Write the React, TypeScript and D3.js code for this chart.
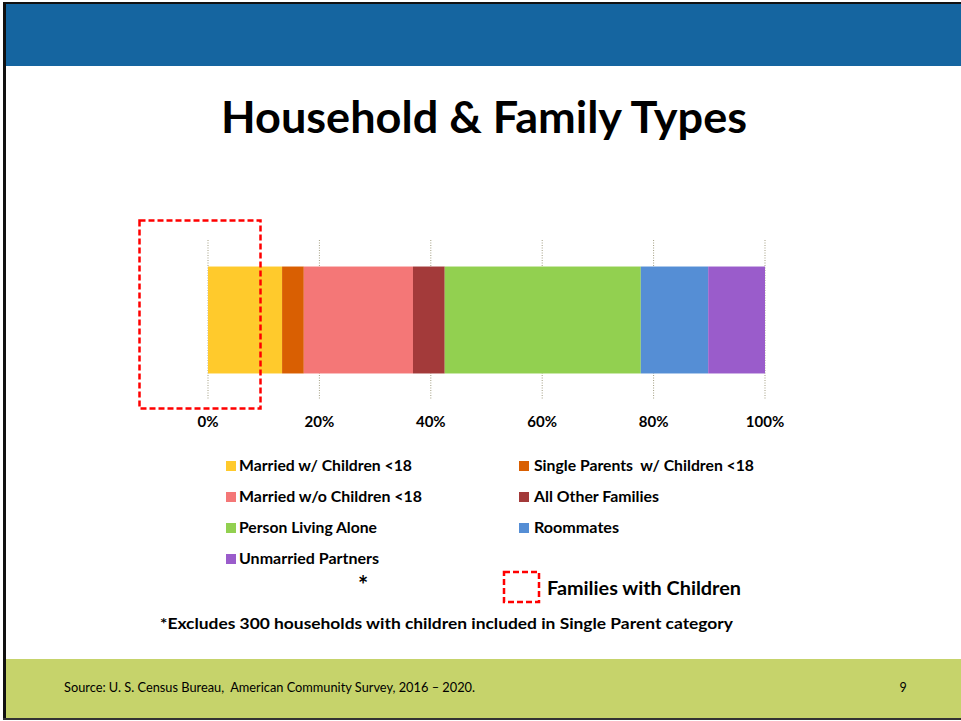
import React from "react";
import * as d3 from "d3";

const categories = [
  "Married w/ Children <18",
  "Single Parents  w/ Children <18",
  "Married w/o Children <18",
  "All Other Families",
  "Person Living Alone",
  "Roommates",
  "Unmarried Partners",
];
const shares = [13.3, 3.9, 19.6, 5.7, 35.2, 12.1, 10.2];
const colors = ["#FFCA2C", "#D95F02", "#F47777", "#A33A3A", "#92D050", "#558ED5", "#9A5CCB"];
const tickValues = [0, 20, 40, 60, 80, 100];
const tickLabels = ["0%", "20%", "40%", "60%", "80%", "100%"];
const rowName = ["Households"];
const legendWidths = [173, 220, 183, 125, 138, 85, 140];

const W = 961;
const H = 721;
const FONT = "Lato, 'Open Sans', sans-serif";

export default function App() {
  const x = d3.scaleLinear().domain([0, 100]).range([208, 765]);
  const y = d3.scaleBand().domain(rowName).range([240, 400]).paddingInner(0).paddingOuter(0.248);
  const stacked = d3.cumsum(shares);
  const starts = shares.map((s, i) => stacked[i] - s);
  const bandY = y(rowName[0]) as number;
  const bw = y.bandwidth();

  const legendPos = categories.map((_, i) => ({
    col: i % 2,
    row: Math.floor(i / 2),
  }));
  const colX = [226, 519];
  const textOff = [13, 15];
  const rowY = [466, 497, 528, 559];

  return (
    <svg
      width={W}
      height={H}
      style={{ position: "absolute", left: 0, top: 0, display: "block", background: "#fff" }}
      fontFamily={FONT}
    >
      {/* frame */}
      <rect x={0} y={0} width={W} height={H} fill="#fff" />
      <rect x={4} y={4} width={W - 4} height={62} fill="#1565A0" />
      <rect x={4} y={659} width={W - 4} height={59} fill="#C6D36B" />
      <rect x={3} y={2} width={W - 3} height={2} fill="#111" />
      <rect x={3} y={2} width={3} height={718} fill="#111" />
      <rect x={3} y={718} width={W - 3} height={2} fill="#333" />

      {/* title */}
      <text x={484} y={133} textAnchor="middle" fontSize={43} fontWeight={700} fill="#000"
        textLength={526} lengthAdjust="spacingAndGlyphs">
        Household &amp; Family Types
      </text>

      {/* gridlines */}
      {tickValues.map((t) => (
        <line key={t} x1={x(t)} x2={x(t)} y1={240} y2={400} stroke="#A39E82" strokeWidth={1}
          strokeDasharray="1,1.5" />
      ))}

      {/* bar segments */}
      {shares.map((s, i) => (
        <rect key={categories[i]} x={x(starts[i])} y={bandY} width={x(starts[i] + s) - x(starts[i])}
          height={bw} fill={colors[i]} />
      ))}

      {/* dashed box over families with children */}
      <rect x={139.5} y={220.5} width={121} height={188} fill="none" stroke="#FF0000" strokeWidth={2.5}
        strokeDasharray="6,3" />

      {/* tick labels */}
      {tickValues.map((t, i) => (
        <text key={t} x={x(t)} y={427} textAnchor="middle" fontSize={15} fontWeight={700} fill="#000">
          {tickLabels[i]}
        </text>
      ))}

      {/* legend */}
      {categories.map((c, i) => {
        const p = legendPos[i];
        const lx = colX[p.col];
        const ly = rowY[p.row];
        return (
          <g key={c}>
            <rect x={lx} y={ly - 5} width={10} height={10} fill={colors[i]} />
            <text x={lx + textOff[p.col]} y={ly + 5} fontSize={15} fontWeight={700} fill="#000"
              textLength={legendWidths[i]} lengthAdjust="spacingAndGlyphs" style={{ whiteSpace: "pre" }}>
              {c}
            </text>
          </g>
        );
      })}

      {/* asterisk */}
      <text x={363} y={594} textAnchor="middle" fontSize={24} fontWeight={700} fill="#000">*</text>

      {/* families with children key */}
      <rect x={504} y={572} width={35} height={30} fill="none" stroke="#FF0000" strokeWidth={2.5}
        strokeDasharray="6,3" />
      <text x={547} y={595} fontSize={18} fontWeight={700} fill="#000" textLength={194}
        lengthAdjust="spacingAndGlyphs">
        Families with Children
      </text>

      {/* footnote */}
      <text x={160} y={629} fontSize={15} fontWeight={700} fill="#000" textLength={573}
        lengthAdjust="spacingAndGlyphs">
        *Excludes 300 households with children included in Single Parent category
      </text>

      {/* footer */}
      <text x={64} y={692} fontSize={12.5} fill="#000" textLength={411} lengthAdjust="spacingAndGlyphs"
        style={{ whiteSpace: "pre" }}>
        {"Source: U. S. Census Bureau,  American Community Survey, 2016 \u2013 2020."}
      </text>
      <text x={903} y={692} textAnchor="middle" fontSize={12.5} fill="#000">9</text>
    </svg>
  );
}
